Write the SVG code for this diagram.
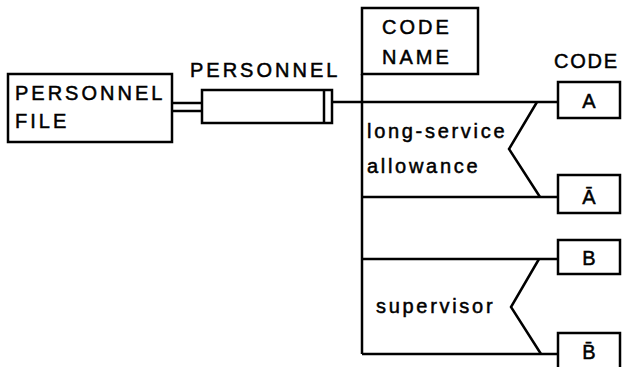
<svg xmlns="http://www.w3.org/2000/svg" width="625" height="367" viewBox="0 0 625 367">
<style>
.b{fill:#fff;stroke:#000;stroke-width:2.5}
.l{fill:none;stroke:#000;stroke-width:2.5;stroke-linejoin:miter}
text{font-family:"Liberation Sans",Arial,sans-serif;font-size:20px;fill:#000;stroke:#000;stroke-width:0.5}
.t{letter-spacing:3px}
.s{letter-spacing:2.7px}
.c{text-anchor:middle}
</style>
<rect width="625" height="367" fill="#fff"/>
<g id="connectors">
<line class="l" x1="172" y1="103" x2="202" y2="103"/>
<line class="l" x1="172" y1="111" x2="202" y2="111"/>
<line class="l" x1="332" y1="102" x2="558" y2="102"/>
<line class="l" x1="362" y1="74" x2="362" y2="354"/>
<line class="l" x1="362" y1="197" x2="558" y2="197"/>
<line class="l" x1="362" y1="259" x2="558" y2="259"/>
<line class="l" x1="362" y1="354" x2="558" y2="354"/>
<polyline class="l" points="537,102 509,149 540,197"/>
<polyline class="l" points="539,259 511,307 541,354"/>
</g>
<g id="personnel-file">
<rect class="b" x="8" y="74" width="164" height="68"/>
<text class="t" x="15" y="100">PERSONNEL</text>
<text class="t" x="15" y="128">FILE</text>
</g>
<g id="personnel">
<rect class="b" x="202" y="90" width="130" height="33"/>
<line class="l" x1="324" y1="90" x2="324" y2="123"/>
<text class="t" x="190" y="77">PERSONNEL</text>
</g>
<g id="code-name">
<rect class="b" x="362" y="8" width="116" height="66"/>
<text class="t" x="382" y="34">CODE</text>
<text class="t" x="382" y="64">NAME</text>
</g>
<g id="code-label">
<text x="554" y="68" style="letter-spacing:1.8px">CODE</text>
</g>
<g id="long-service">
<text class="s" x="367" y="138">long-service</text>
<text class="s" x="367" y="173">allowance</text>
</g>
<g id="supervisor">
<text class="s" x="376" y="313">supervisor</text>
</g>
<g id="code-A">
<rect class="b" x="558" y="82" width="62" height="36"/>
<text class="c" x="589" y="108">A</text>
</g>
<g id="code-A-bar">
<rect class="b" x="558" y="175" width="62" height="38"/>
<text class="c" x="589" y="204">Ā</text>
</g>
<g id="code-B">
<rect class="b" x="558" y="240" width="62" height="34"/>
<text class="c" x="589" y="265">B</text>
</g>
<g id="code-B-bar">
<rect class="b" x="558" y="333" width="62" height="40"/>
<text class="c" x="589" y="359">B̄</text>
</g>
</svg>
